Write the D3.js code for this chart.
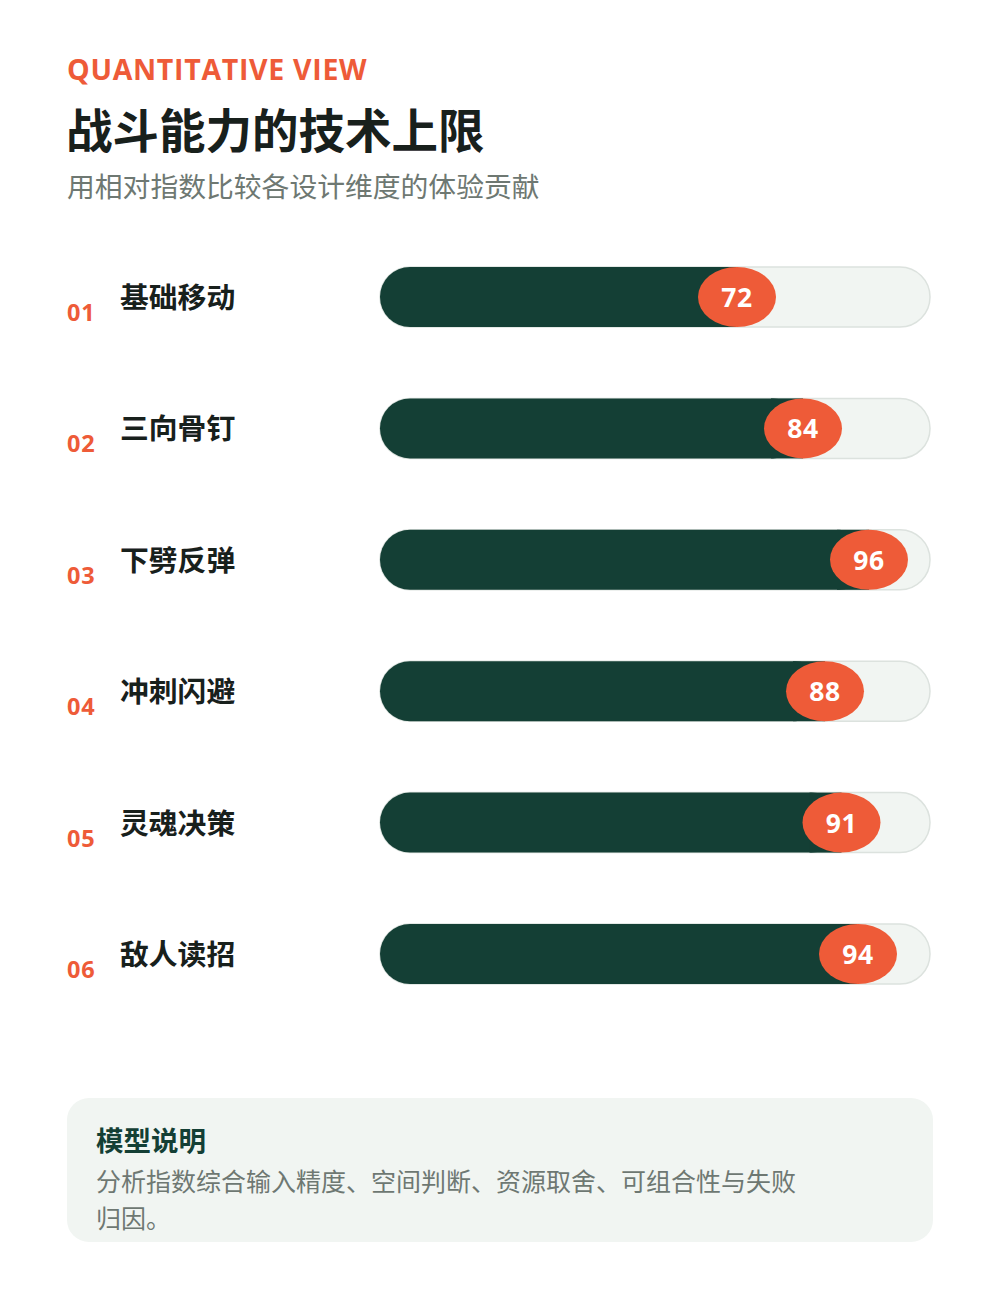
<!DOCTYPE html>
<html><head><meta charset="utf-8">
<script src="https://cdn.jsdelivr.net/npm/d3@7"></script>
<style>body{margin:0;background:#fff}svg{display:block}</style>
</head><body>
<svg id="c" width="1000" height="1296"></svg>
<script>
const categories = ["基础移动","三向骨钉","下劈反弹","冲刺闪避","灵魂决策","敌人读招"];
const indices = ["01","02","03","04","05","06"];
const values = [72,84,96,88,91,94];
const eyebrow = "QUANTITATIVE VIEW";
const title = "战斗能力的技术上限";
const subtitle = "用相对指数比较各设计维度的体验贡献";
const noteTitle = "模型说明";
const noteLines = ["分析指数综合输入精度、空间判断、资源取舍、可组合性与失败","归因。"];

const svg = d3.select("#c");
const F = "'Open Sans','Noto Sans CJK SC',sans-serif";
const CJK = "'Noto Sans CJK SC',sans-serif";
const GREEN = "#143F35", ORANGE = "#EE5B38", TRACK = "#F1F5F2";

svg.append("text").attr("x",67).attr("y",80).attr("font-family",F).attr("font-weight",700)
  .attr("font-size",28.5).attr("letter-spacing",0.7).attr("fill",ORANGE).text(eyebrow);
svg.append("text").attr("x",66).attr("y",148).attr("font-family",CJK).attr("font-weight",700)
  .attr("font-size",46.5).attr("fill","#18201C").text(title);
svg.append("text").attr("x",67).attr("y",197).attr("font-family",CJK).attr("font-weight",400)
  .attr("font-size",27.8).attr("fill","#6E7872").text(subtitle);

const x = d3.scaleLinear().domain([0,100]).range([380,930]);
const y = d3.scalePoint().domain(categories).range([297,954]);
const H = 60, R = 30, rx = 39;

const rows = svg.append("g").selectAll("g").data(categories).join("g")
  .attr("transform", d => `translate(0,${y(d)})`);

rows.append("text").attr("x",67).attr("y",24).attr("font-family",F).attr("font-weight",700)
  .attr("font-size",23.5).attr("letter-spacing",0.8).attr("fill",ORANGE).text((d,i)=>indices[i]);
rows.append("text").attr("x",120).attr("y",11).attr("font-family",CJK).attr("font-weight",700)
  .attr("font-size",28.8).attr("fill","#18201C").text(d=>d);

rows.append("rect").attr("x",x(0)).attr("y",-H/2).attr("width",x(100)-x(0)).attr("height",H)
  .attr("rx",R).attr("fill",TRACK).attr("stroke","#DCE2DE").attr("stroke-width",1.5);
rows.append("rect").attr("x",x(0)).attr("y",-H/2).attr("width",(d,i)=>x(values[i])-x(0)-rx).attr("height",H)
  .attr("rx",R).attr("fill",GREEN);
rows.append("rect").attr("x",(d,i)=>x(values[i])-rx-R-2).attr("y",-H/2).attr("width",R+2).attr("height",H)
  .attr("fill",GREEN);
rows.append("ellipse").attr("cx",(d,i)=>x(values[i])-rx).attr("cy",0).attr("rx",rx).attr("ry",H/2)
  .attr("fill",ORANGE);
rows.append("text").attr("x",(d,i)=>x(values[i])-rx).attr("y",10).attr("text-anchor","middle")
  .attr("font-family",F).attr("font-weight",700).attr("font-size",26.5).attr("letter-spacing",0.5).attr("fill","#fff")
  .text((d,i)=>values[i]);

svg.append("rect").attr("x",67).attr("y",1098).attr("width",866).attr("height",144).attr("rx",22)
  .attr("fill",TRACK);
svg.append("text").attr("x",96).attr("y",1151).attr("font-family",CJK).attr("font-weight",700)
  .attr("font-size",27.5).attr("fill",GREEN).text(noteTitle);
svg.append("g").selectAll("text").data(noteLines).join("text")
  .attr("x",96).attr("y",(d,i)=>1191+i*37).attr("font-family",CJK).attr("font-size",25)
  .attr("fill","#6E7872").text(d=>d);
</script>
</body></html>
